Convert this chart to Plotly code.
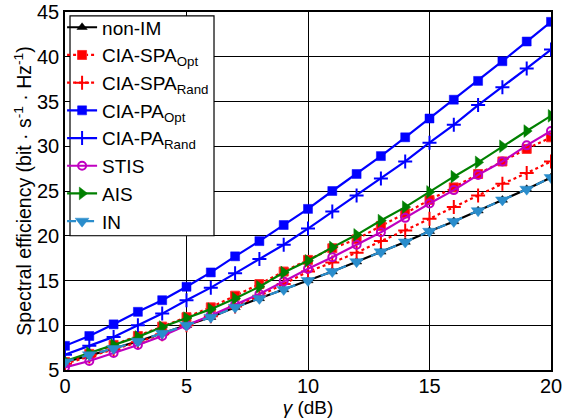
import plotly.graph_objects as go

gamma = list(range(0, 21))

non_im = [5.9, 6.6, 7.4, 8.2, 9.1, 10.0, 10.9, 12.0, 13.0, 14.0, 15.0, 16.0, 17.1, 18.2, 19.3, 20.5, 21.6, 22.8, 24.0, 25.2, 26.5]
cia_spa_opt = [5.9, 6.8, 7.8, 8.8, 9.85, 10.9, 12.0, 13.3, 14.6, 16.0, 17.3, 18.6, 19.6, 21.1, 22.5, 24.0, 25.4, 26.9, 28.3, 29.7, 31.0]
cia_spa_rand = [5.7, 6.5, 7.3, 8.1, 9.0, 10.0, 11.0, 12.1, 13.3, 14.6, 16.0, 17.0, 18.1, 19.4, 20.6, 21.9, 23.2, 24.5, 25.8, 27.0, 28.3]
cia_pa_opt = [7.7, 8.8, 10.1, 11.5, 12.8, 14.3, 15.9, 17.7, 19.4, 21.2, 23.0, 25.0, 26.9, 28.9, 31.0, 33.1, 35.2, 37.3, 39.5, 41.7, 43.9]
cia_pa_rand = [6.7, 7.7, 8.7, 10.0, 11.3, 12.8, 14.2, 15.8, 17.4, 19.0, 20.8, 22.7, 24.5, 26.4, 28.3, 30.4, 32.4, 34.6, 36.6, 38.7, 40.8]
stis = [5.3, 6.0, 6.9, 7.8, 8.8, 10.0, 11.1, 12.3, 13.5, 14.9, 16.3, 17.6, 19.0, 20.4, 22.0, 23.6, 25.1, 26.8, 28.3, 30.1, 31.7]
ais = [6.0, 6.9, 7.8, 8.7, 9.8, 10.8, 11.8, 13.0, 14.3, 15.9, 17.2, 18.7, 20.1, 21.7, 23.2, 24.9, 26.6, 28.2, 30.0, 31.7, 33.4]
in_ = [5.9, 6.7, 7.4, 8.2, 9.1, 10.0, 10.9, 12.0, 13.0, 14.0, 15.0, 16.0, 17.1, 18.2, 19.3, 20.5, 21.6, 22.8, 24.0, 25.2, 26.5]

series = [
    ("non-IM", non_im, "#000000", "solid", "triangle-up", 9),
    ("CIA-SPA<sub>Opt</sub>", cia_spa_opt, "#ff0000", "dot", "square", 9),
    ("CIA-SPA<sub>Rand</sub>", cia_spa_rand, "#ff0000", "dot", "cross-thin", 10),
    ("CIA-PA<sub>Opt</sub>", cia_pa_opt, "#0000ff", "solid", "square", 9),
    ("CIA-PA<sub>Rand</sub>", cia_pa_rand, "#0000ff", "solid", "cross-thin", 10),
    ("STIS", stis, "#c000c0", "solid", "circle-open", 8),
    ("AIS", ais, "#008000", "solid", "triangle-right", 11),
    ("IN", in_, "#2a8dcc", "dash", "triangle-down", 12),
]

fig = go.Figure()
for name, ys, color, dash, sym, size in series:
    mk = dict(symbol=sym, size=size, color=color, line=dict(color=color, width=2 if "open" in sym or "thin" in sym else 0.5))
    if sym == "square" and dash == "dot":
        mk = dict(symbol="square", size=9, color="#ff0000", line=dict(color="#ff3333", width=1))
    fig.add_trace(go.Scatter(
        x=gamma, y=ys, name=name, mode="lines+markers",
        line=dict(color=color, width=2.2, dash=dash),
        marker=mk,
    ))

# legend frame drawn as a paper-space box
fig.add_shape(type="rect", xref="paper", yref="paper",
              x0=0.0103, x1=0.3066, y0=0.375, y1=0.989,
              fillcolor="white", line=dict(color="black", width=1.2), layer="above")

fig.update_layout(
    width=570, height=418,
    margin=dict(l=65, r=19, t=12, b=48, autoexpand=False),
    paper_bgcolor="white", plot_bgcolor="white",
    font=dict(family="Liberation Sans, Arial", size=20, color="black"),
    legend=dict(
        x=-0.006, y=0.686, xanchor="left", yanchor="middle",
        bgcolor="rgba(0,0,0,0)", borderwidth=0,
        font=dict(size=19), tracegroupgap=0, itemwidth=30,
    ),
    xaxis=dict(
        range=[0, 20], tickvals=[0, 5, 10, 15, 20],
        showgrid=True, gridcolor="black", gridwidth=1,
        showline=True, linecolor="black", linewidth=1.5, mirror=True,
        ticks="inside", ticklen=5, tickcolor="black", zeroline=False,
        tickfont=dict(size=20), ticklabelstandoff=-3,
        title=dict(text="<i>γ</i> (dB)", standoff=5, font=dict(size=19)),
    ),
    yaxis=dict(
        range=[5, 45], tickvals=[5, 10, 15, 20, 25, 30, 35, 40, 45],
        showgrid=True, gridcolor="black", gridwidth=1,
        showline=True, linecolor="black", linewidth=1.5, mirror=True,
        ticks="inside", ticklen=5, tickcolor="black", zeroline=False,
        tickfont=dict(size=20),
        title=dict(text="Spectral efficiency (bit · s<sup>-1</sup> · Hz<sup>-1</sup>)", standoff=0, font=dict(size=19.5)),
    ),
)

fig.write_html("out.html")
